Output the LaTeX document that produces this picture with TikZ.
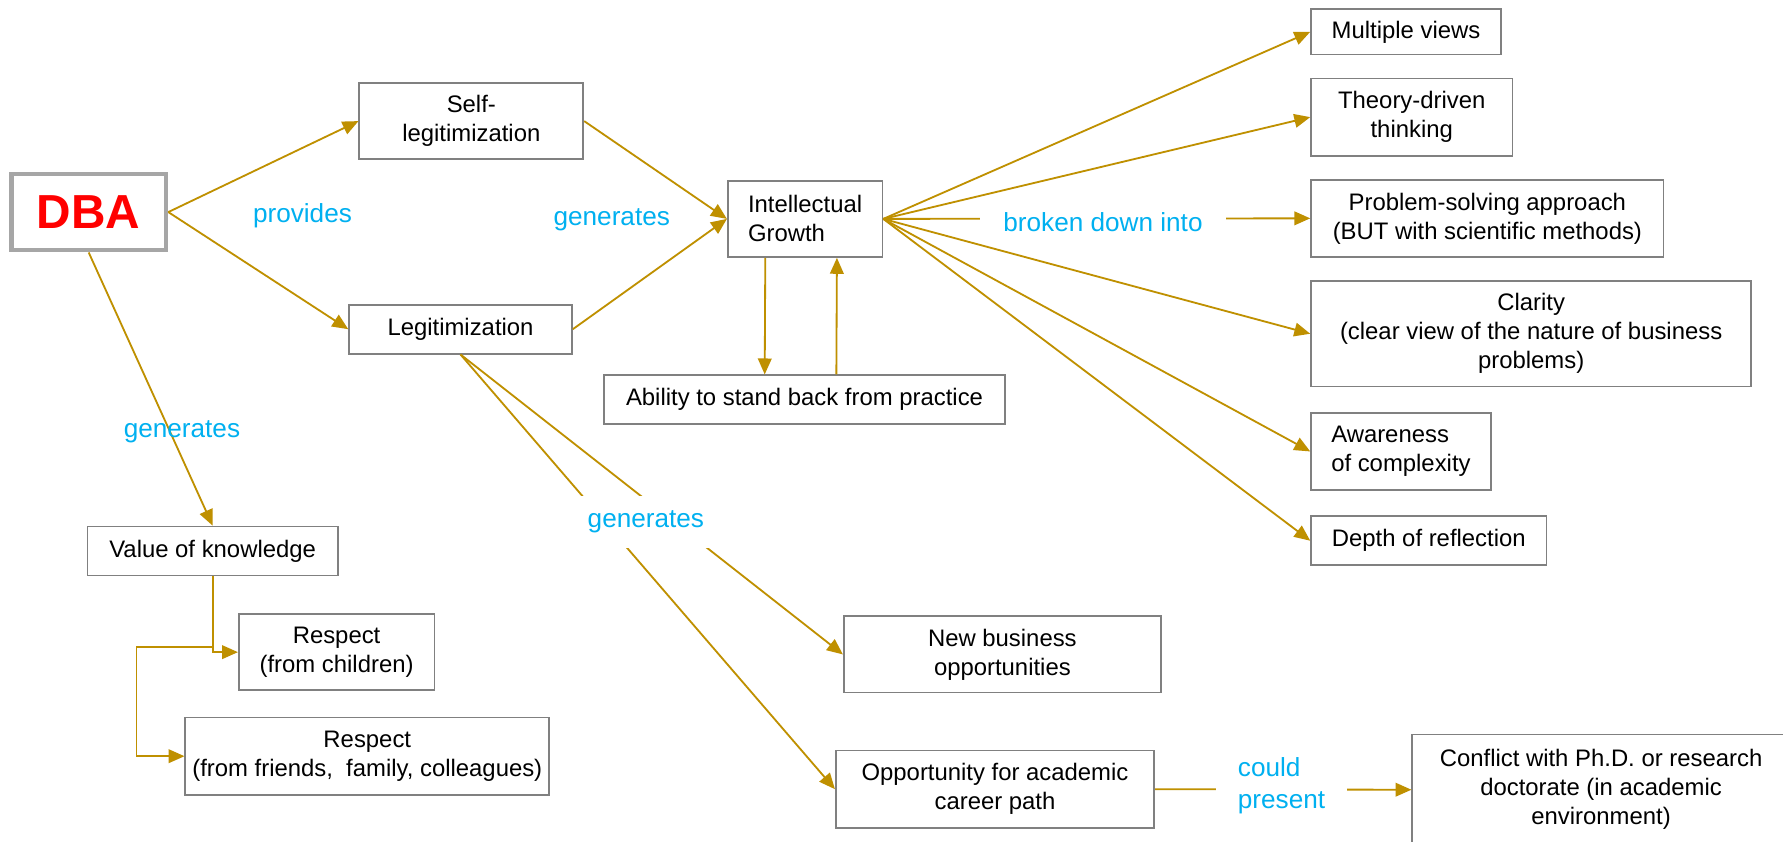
\documentclass[tikz,border=0pt]{standalone}
\usepackage{fontspec}
\setmainfont{Liberation Sans}
\usetikzlibrary{arrows.meta,calc}
\definecolor{gold}{HTML}{BF9000}
\definecolor{lblue}{HTML}{00B0F0}
\definecolor{bgray}{HTML}{808080}
\definecolor{dgray}{HTML}{A6A6A6}
\begin{document}
\begin{tikzpicture}[x=0.5pt,y=-0.5pt,
 box/.style={draw=bgray, line width=0.75pt, fill=white, align=center, inner sep=1pt, font=\fontsize{10.5}{12.75}\selectfont},
 conn/.style={draw=gold, line width=0.8pt},
 arr/.style={conn, -{Triangle[length=7pt,width=6pt]}},
 lbl/.style={text=lblue, font=\fontsize{11.5}{14}\selectfont, inner sep=0pt},
]
\fill[white] (0,0) rectangle (1568,740);
\useasboundingbox (0,0) rectangle (1568,740);

% boxes
\node[box, draw=dgray, line width=2pt, minimum width=68pt, minimum height=33.5pt, text=red, font=\fontsize{21}{24}\selectfont\bfseries] (dba) at (78,186.5) {DBA};
\node[box, minimum width=98.5pt, minimum height=33.5pt] (sl) at (414.5,106.5) {Self-\\legitimization};
\node[box, minimum width=98pt, minimum height=21.5pt] (lg) at (405,289.5) {Legitimization};
\node[box, align=left, minimum width=68pt, minimum height=33.5pt] (ig) at (708,192.5) {Intellectual\\Growth};
\node[box, minimum width=176.5pt, minimum height=21.5pt] (ab) at (707.5,351.5) {Ability to stand back from practice};
\node[box, minimum width=110pt, minimum height=21.5pt] (vk) at (187,484.5) {Value of knowledge};
\node[box, minimum width=86pt, minimum height=33.5pt] (rc) at (296,573.5) {Respect\\(from children)};
\node[box, minimum width=160pt, minimum height=34pt] (rf) at (323,665) {Respect\\(from friends,\ \ family, colleagues)};
\node[box, minimum width=139.5pt, minimum height=33.5pt] (nb) at (881.5,575.5) {New business\\opportunities};
\node[box, minimum width=140pt, minimum height=34pt] (op) at (875,694) {Opportunity for academic\\career path};
\node[box, minimum width=166pt, minimum height=48.5pt] (cf) at (1408,694.5) {Conflict with Ph.D. or research\\doctorate (in academic\\environment)};
\node[box, minimum width=83.5pt, minimum height=20pt] (mv) at (1236.5,28) {Multiple views};
\node[box, minimum width=88.5pt, minimum height=34pt] (th) at (1241.5,103) {Theory-driven\\thinking};
\node[box, minimum width=155pt, minimum height=34pt] (ps) at (1308,192) {Problem-solving approach\\(BUT with scientific methods)};
\node[box, minimum width=193.5pt, minimum height=46.5pt] (cl) at (1346.5,293.5) {Clarity\\(clear view of the nature of business\\problems)};
\node[box, align=left, minimum width=79pt, minimum height=34pt] (aw) at (1232,397) {Awareness\\of complexity};
\node[box, minimum width=103.5pt, minimum height=21.5pt] (dp) at (1256.5,475.5) {Depth of reflection};

% connectors
\draw[arr] (dba.east) -- (sl.west);
\draw[arr] (dba.east) -- (lg.west);
\draw[arr] (dba.south) -- (vk.north);
\draw[arr] (sl.east) -- (ig.west);
\draw[arr] (lg.east) -- (ig.west);
\draw[arr] ([xshift=-17.5pt]ig.south) -- ([xshift=-17.5pt]ab.north);
\draw[arr] ([xshift=14pt]ab.north) -- ([xshift=14pt]ig.south);
\foreach \t in {mv,th,ps,cl,aw,dp}{\draw[arr] (ig.east) -- (\t.west);}
\draw[arr] (lg.south) -- (nb.west);
\draw[arr] (lg.south) -- (op.west);
\draw[arr] (vk.south) |- (rc.west);
\coordinate (vkb) at (187,569);
\draw[arr] (vkb) -- ++(-67,0) |- (rf.west);
\draw[arr] (op.east) -- (cf.west);

% labels
\node[lbl] (pv) at (266,190) {provides};
\node[lbl, fill=white, inner xsep=8pt, inner ysep=5pt] (g1) at (538,193) {generates};
\node[lbl] (g2) at (160,380) {generates};
\node[lbl, fill=white, minimum width=63.5pt, minimum height=23pt] (g3) at (568,459) {generates};
\node[lbl, fill=white, inner xsep=10.5pt, inner ysep=3pt] (bd) at (970,195) {broken down into};
\node[lbl, fill=white, align=left, inner xsep=9.5pt, inner ysep=2pt] (cp) at (1127,691) {could\\present};
\end{tikzpicture}
\end{document}
